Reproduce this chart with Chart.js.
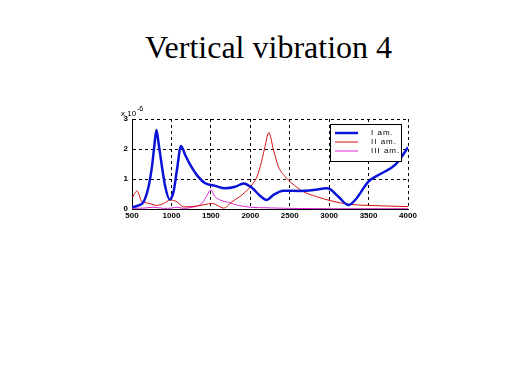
<!DOCTYPE html>
<html>
<head>
<meta charset="utf-8">
<script src="https://cdn.jsdelivr.net/npm/chart.js@4"></script>
<style>
  html, body { margin: 0; padding: 0; background: #fff; }
  #wrap { position: relative; width: 519px; height: 389px; }
  #title {
    position: absolute; left: 0; top: 31px; width: 537px;
    text-align: center; font-family: 'Liberation Serif', 'Times New Roman', serif;
    font-size: 32px; line-height: 32px; color: #000;
  }
  canvas { position: absolute; left: 0; top: 0; }
</style>
</head>
<body>
<div id="wrap">
  <div id="title">Vertical vibration 4</div>
  <canvas id="vibChart" width="519" height="389"></canvas>
</div>
<script>
const X_TICKS = [500, 1000, 1500, 2000, 2500, 3000, 3500, 4000];
const Y_TICKS = [0, 1, 2, 3];
const SERIES_LABELS = ['I am.', 'II am.', 'III am.'];

const iamX = [500, 560, 647, 710, 753, 782, 810, 837, 880, 922, 976, 1027, 1070, 1121, 1175, 1239, 1323, 1429, 1555, 1682, 1809, 1914, 2020, 2120, 2210, 2294, 2421, 2632, 2801, 2970, 3012, 3118, 3245, 3330, 3498, 3667, 3836, 3963, 4000];
const iamY = [0.06, 0.1, 0.24, 0.74, 1.41, 2.08, 2.63, 2.19, 1.41, 0.74, 0.32, 0.58, 1.3, 2.1, 1.8, 1.47, 1.13, 0.86, 0.77, 0.69, 0.74, 0.85, 0.71, 0.45, 0.3, 0.47, 0.61, 0.6, 0.63, 0.69, 0.66, 0.41, 0.13, 0.3, 0.91, 1.19, 1.47, 1.91, 2.06];

const iiamX = [500, 563, 627, 700, 808, 900, 985, 1070, 1154, 1323, 1429, 1513, 1597, 1661, 1767, 1894, 2020, 2080, 2130, 2180, 2235, 2294, 2357, 2442, 2527, 2674, 2843, 3012, 3245, 3498, 4000];
const iiamY = [0.36, 0.6, 0.24, 0.2, 0.12, 0.18, 0.3, 0.24, 0.07, 0.1, 0.15, 0.19, 0.1, 0.03, 0.24, 0.47, 0.8, 1.05, 1.45, 2.0, 2.55, 1.97, 1.41, 1.08, 0.86, 0.58, 0.41, 0.28, 0.16, 0.12, 0.08];

const iiiamX = [500, 650, 780, 900, 1000, 1070, 1150, 1250, 1387, 1450, 1500, 1550, 1619, 1724, 1850, 2000, 2200, 2500, 3000, 4000];
const iiiamY = [0.02, 0.03, 0.06, 0.02, 0.03, 0.06, 0.02, 0.05, 0.19, 0.45, 0.64, 0.42, 0.3, 0.22, 0.12, 0.06, 0.04, 0.02, 0.01, 0.01];

const colors = {
  iam: '#0a14d8',
  iiam: '#d01010',
  iiiam: '#d828d8'
};

const toPoints = (xs, ys) => xs.map((x, i) => ({ x, y: ys[i] }));

// legend box + exponent label drawn on top of the plot
const overlayPlugin = {
  id: 'overlay',
  afterDraw(chart) {
    const ctx = chart.ctx;
    const area = chart.chartArea;
    ctx.save();
    ctx.fillStyle = '#000';
    ctx.font = '8px "Liberation Sans", Arial, sans-serif';
    ctx.textBaseline = 'alphabetic';
    ctx.fillText('x 10', area.left - 11, area.top - 3);
    ctx.font = '7px "Liberation Sans", Arial, sans-serif';
    ctx.fillText('-6', area.left + 5, area.top - 8);

    const bx = 330, by = 124, bw = 71, bh = 37;
    ctx.fillStyle = '#fff';
    ctx.fillRect(bx, by, bw, bh);
    ctx.strokeStyle = '#000';
    ctx.lineWidth = 1;
    ctx.strokeRect(bx + 0.5, by + 0.5, bw, bh);
    ctx.font = '8px "Liberation Sans", Arial, sans-serif';
    ctx.letterSpacing = '1px';
    ctx.textBaseline = 'middle';
    chart.data.datasets.forEach((ds, i) => {
      const yy = 133 + i * 9;
      ctx.strokeStyle = ds.borderColor;
      ctx.lineWidth = ds.borderWidth;
      ctx.beginPath();
      ctx.moveTo(335, yy);
      ctx.lineTo(358, yy);
      ctx.stroke();
      ctx.fillStyle = '#000';
      ctx.fillText(ds.label, 371, yy);
    });
    ctx.restore();
  }
};

const gridStyle = {
  color: '#000',
  lineWidth: 1,
  drawTicks: false
};

const tickFont = { family: '"Liberation Sans", Arial, sans-serif', size: 8, weight: 'bold' };

const config = {
  type: 'line',
  data: {
    datasets: [
      {
        label: SERIES_LABELS[0],
        data: toPoints(iamX, iamY),
        borderColor: colors.iam,
        borderWidth: 2.5
      },
      {
        label: SERIES_LABELS[1],
        data: toPoints(iiamX, iiamY),
        borderColor: colors.iiam,
        borderWidth: 1
      },
      {
        label: SERIES_LABELS[2],
        data: toPoints(iiiamX, iiiamY),
        borderColor: colors.iiiam,
        borderWidth: 1
      }
    ]
  },
  options: {
    responsive: false,
    animation: false,
    layout: {
      padding: { left: 0, top: 119, right: 111, bottom: 160 }
    },
    elements: {
      point: { radius: 0 },
      line: { cubicInterpolationMode: 'monotone', fill: false }
    },
    plugins: {
      legend: { display: false },
      tooltip: { enabled: false },
      title: { display: false }
    },
    scales: {
      x: {
        type: 'linear',
        min: 500,
        max: 4000,
        afterBuildTicks: (scale) => { scale.ticks = X_TICKS.map(v => ({ value: v })); },
        afterFit: (scale) => { scale.height = 20; },
        grid: gridStyle,
        border: { display: true, color: '#000', width: 1, dash: [3, 3] },
        ticks: {
          padding: 2,
          color: '#000',
          maxRotation: 0,
          font: tickFont,
          callback: (v) => String(v)
        }
      },
      y: {
        type: 'linear',
        min: 0,
        max: 3,
        afterBuildTicks: (scale) => { scale.ticks = Y_TICKS.map(v => ({ value: v })); },
        afterFit: (scale) => { scale.width = 132; },
        grid: gridStyle,
        border: { display: true, color: '#000', width: 1, dash: [3, 3] },
        ticks: {
          padding: 4,
          color: '#000',
          font: tickFont,
          callback: (v) => String(v)
        }
      }
    }
  },
  plugins: [overlayPlugin]
};

new Chart(document.getElementById('vibChart'), config);
</script>
</body>
</html>
